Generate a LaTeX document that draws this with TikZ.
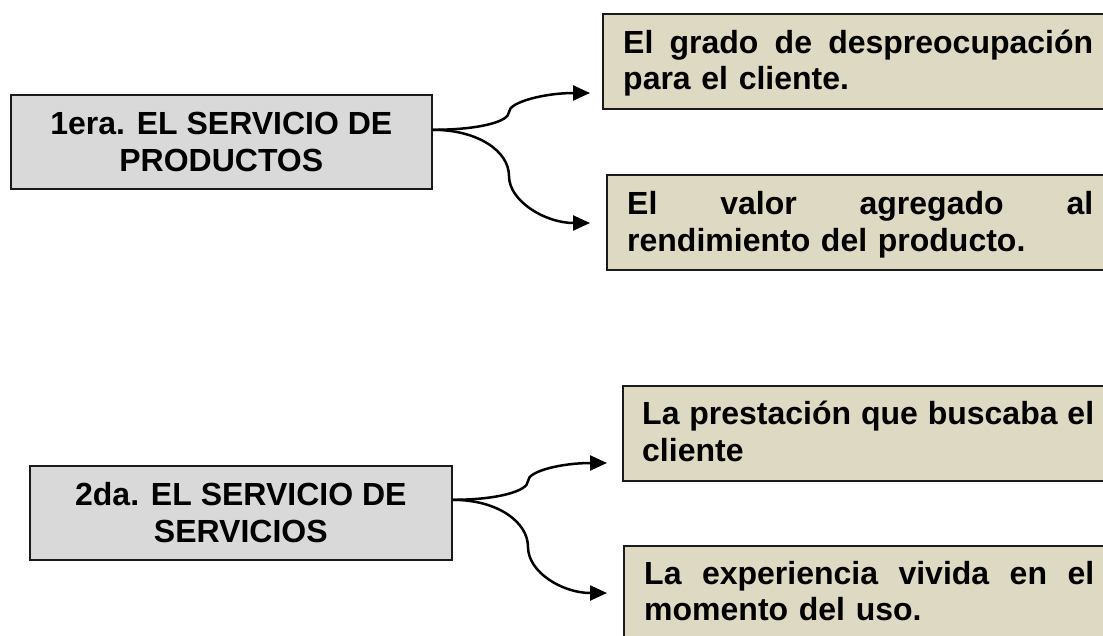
\documentclass[tikz,border=0pt]{standalone}
\usepackage{fontspec}
\setmainfont{Liberation Sans}
\usetikzlibrary{arrows.meta}
\definecolor{lgray}{HTML}{D9D9D9}
\definecolor{tan}{HTML}{DDD9C3}
\definecolor{edge}{HTML}{1A1A1A}
\tikzset{
  boxbase/.style={draw=edge, line width=1.6pt, inner sep=0pt},
  lbox/.style={boxbase, fill=lgray, align=center, anchor=north west,
    font=\bfseries\fontsize{32}{36.5}\selectfont},
  rbox/.style={boxbase, fill=tan, anchor=north west, minimum width=560pt, minimum height=95pt},
  rtext/.style={inner sep=0pt, align=left, anchor=base west,
    font=\bfseries\fontsize{32}{36.5}\selectfont},
  conn/.style={line width=2.5pt, -{Triangle[length=17pt,width=15pt]}}
}
\begin{document}
\begin{tikzpicture}[x=1pt,y=-1pt]
\useasboundingbox (0,0) rectangle (1103,635);
\clip (0,0) rectangle (1103,635);
\fill[white] (0,0) rectangle (1103,635);

% --- group 1 ---
\node[lbox, minimum width=421pt, minimum height=94pt] (b1) at (10,94) {1era. EL SERVICIO DE\\PRODUCTOS};
\node[rbox] (b2) at (602,13) {};
\node[rtext, text width=470pt] (t2) at (623,53) {El\hfill grado\hfill de\hfill despreocupación\\para el cliente.};
\node[rbox] (b3) at (606,174) {};
\node[rtext, text width=466pt] (t3) at (627,214.5) {El\hfill valor\hfill agregado\hfill al\\rendimiento del producto.};

\coordinate (s1) at ([yshift=12pt]b1.east);
\coordinate (m1) at (509,112);
\coordinate (m1b) at (509,176);
\coordinate (e1) at (590,93);
\coordinate (e1b) at (590,223);
\draw[conn] (s1) .. controls +(45,0) and +(0,10) .. (m1) .. controls +(0,-10) and +(-45,0) .. (e1);
\draw[conn] (s1) .. controls +(45,0) and +(0,-25) .. (m1b) .. controls +(0,25) and +(-45,0) .. (e1b);

% --- group 2 ---
\node[lbox, minimum width=422pt, minimum height=94pt] (b4) at (29,465) {2da. EL SERVICIO DE\\SERVICIOS};
\node[rbox] (b5) at (622,385) {};
\node[rtext, text width=452pt] (t5) at (642,424.5) {La\hfill prestación\hfill que\hfill buscaba\hfill el\\cliente};
\node[rbox, minimum height=110pt] (b6) at (623,545) {};
\node[rtext, text width=450pt] (t6) at (644,584) {La\hfill experiencia\hfill vivida\hfill en\hfill el\\momento del uso.};

\coordinate (s2) at ([yshift=13pt]b4.east);
\coordinate (m2) at (528,481);
\coordinate (m2b) at (528,547);
\coordinate (e2) at (607,463);
\coordinate (e2b) at (607,593);
\draw[conn] (s2) .. controls +(45,0) and +(0,10) .. (m2) .. controls +(0,-10) and +(-45,0) .. (e2);
\draw[conn] (s2) .. controls +(45,0) and +(0,-25) .. (m2b) .. controls +(0,25) and +(-45,0) .. (e2b);
\end{tikzpicture}
\end{document}
